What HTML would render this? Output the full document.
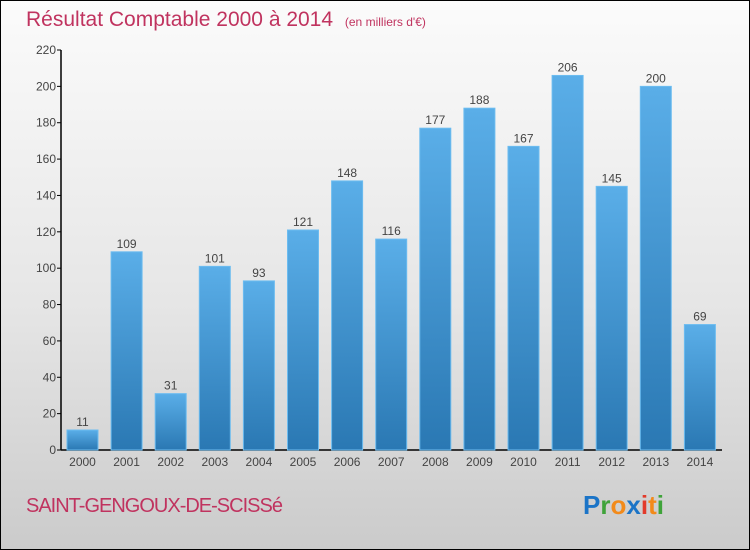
<!DOCTYPE html>
<html><head><meta charset="utf-8"><style>
html,body{margin:0;padding:0;}
body{width:750px;height:550px;overflow:hidden;font-family:"Liberation Sans",sans-serif;}
#wrap{position:absolute;left:0;top:0;width:748px;height:548px;border:1px solid #000;background:linear-gradient(#fbfbfb,#e6e6e6 55%,#cbcbcb);}
</style></head><body>
<div id="wrap">
<svg width="750" height="550" style="position:absolute;left:-1px;top:-1px">
<defs><linearGradient id="bg" x1="0" y1="0" x2="0" y2="1"><stop offset="0" stop-color="#5aaee8"/><stop offset="1" stop-color="#2a78b3"/></linearGradient></defs>
<text x="26" y="26" font-size="21" fill="#c0335f">Résultat Comptable 2000 à 2014 <tspan font-size="12" dx="6">(en milliers d'€)</tspan></text>
<g id="ax"></g>
<g id="bars"></g>
<text x="26" y="512" font-size="20" fill="#c0335f" letter-spacing="-1">SAINT-GENGOUX-DE-SCISSé</text>
<text x="583" y="514" font-size="26" font-weight="bold"><tspan fill="#1b74c7">P</tspan><tspan fill="#3fa33a">r</tspan><tspan fill="#f28a1a">o</tspan><tspan fill="#1b74c7">x</tspan><tspan fill="#e23a2a">i</tspan><tspan fill="#f28a1a">t</tspan><tspan fill="#3fa33a">i</tspan></text>
</svg></div>
<script>
const years=["2000","2001","2002","2003","2004","2005","2006","2007","2008","2009","2010","2011","2012","2013","2014"];
const values=[11,109,31,101,93,121,148,116,177,188,167,206,145,200,69];
const yTicks=[0,20,40,60,80,100,120,140,160,180,200,220];
const NS="http://www.w3.org/2000/svg";
const y0=450,yTop=50,yMax=220,xL=61,xR=722,step=44.1,first=82.5,bw=31;
const Y=v=>y0-(v/yMax)*(y0-yTop);
const X=i=>first+i*step;
function mk(t,a,p){const e=document.createElementNS(NS,t);for(const k in a)e.setAttribute(k,a[k]);p.appendChild(e);return e;}
const ax=document.getElementById('ax'),bars=document.getElementById('bars');
const yl=mk('line',{x1:xL,y1:yTop,x2:xL,y2:y0,stroke:'#000','stroke-width':1.5},ax);


const xl=mk('line',{x1:xL,y1:y0,x2:xR,y2:y0,stroke:'#000','stroke-width':1.5},ax);


yTicks.forEach(v=>{
 mk('line',{x1:xL-4,y1:Y(v),x2:xL,y2:Y(v),stroke:'#000'},ax);
 const t=mk('text',{x:xL-5,y:Y(v)+4,'font-size':12,fill:'#444','text-anchor':'end'},ax);
 t.textContent=v;
 
 
});
years.forEach((yr,i)=>{
 const v=values[i];
 const r=mk('rect',{x:X(i)-bw/2,y:Y(v),width:bw,height:y0-Y(v),fill:'url(#bg)',stroke:'#6cbcf0','stroke-width':1},bars);
 
 
 const l=mk('text',{x:X(i),y:Y(v)-4,'font-size':12,fill:'#444','text-anchor':'middle'},bars);
 l.textContent=v;
 
 
 const xt=mk('text',{x:X(i),y:y0+16,'font-size':12,fill:'#444','text-anchor':'middle'},ax);
 xt.textContent=yr;
 
 
});
</script>
</body></html>
